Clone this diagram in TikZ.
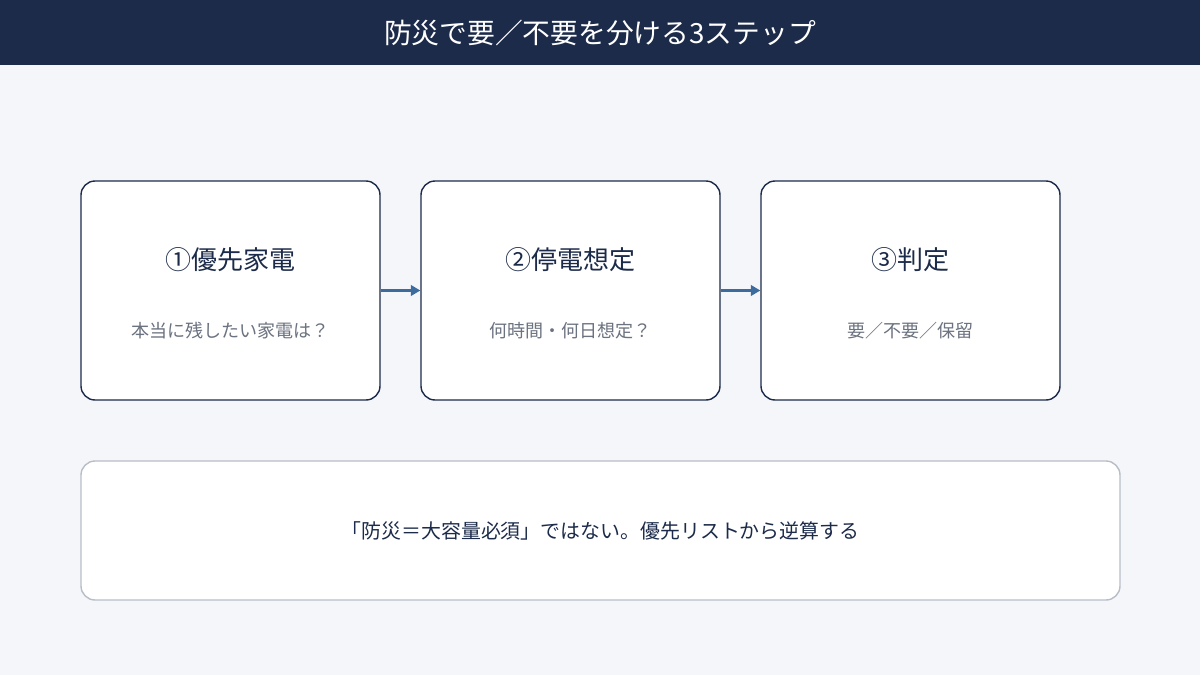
\documentclass[tikz,border=0pt]{standalone}
\usepackage{fontspec}
\setmainfont{Noto Sans CJK JP}
\usetikzlibrary{positioning,arrows.meta}
\definecolor{navy}{HTML}{1C2B4A}
\definecolor{pagebg}{HTML}{F4F6FA}
\definecolor{flow}{HTML}{3D6B9E}
\definecolor{subgray}{HTML}{6B7280}
\definecolor{edgegray}{HTML}{B8BEC8}
\tikzset{
  stepbox/.style={draw=navy,line width=1.2pt,fill=white,rounded corners=12pt,minimum width=299*0.03cm,minimum height=219*0.03cm},
  steptitle/.style={font=\fontsize{22.2}{26}\selectfont,text=navy},
  stepnote/.style={font=\fontsize{15.4}{18}\selectfont,text=subgray},
  link/.style={draw=flow,line width=1.8pt,-{Triangle[length=8pt,width=9pt]}}
}
\begin{document}
\begin{tikzpicture}[x=0.03cm,y=-0.03cm]
  \fill[pagebg] (0,0) rectangle (1200,675);
  \useasboundingbox (0,0) rectangle (1200,675);
  \fill[navy] (0,0) rectangle (1200,65);
  \node[text=white,font=\fontsize{23.7}{28}\selectfont] (header) at (600,33) {防災で要／不要を分ける3ステップ};

  % three steps
  \node[stepbox] (s1) at (230.5,290.5) {};
  \node[stepbox] (s2) at (570.5,290.5) {};
  \node[stepbox] (s3) at (910.5,290.5) {};
  \node[steptitle] (t1) at (230.5,260) {①優先家電};
  \node[stepnote] (n1) at (230.5,331) {本当に残したい家電は？};
  \node[steptitle] (t2) at (570.5,260) {②停電想定};
  \node[stepnote] (n2) at (570.5,331) {何時間・何日想定？};
  \node[steptitle] (t3) at (910.5,260) {③判定};
  \node[stepnote] (n3) at (910.5,331) {要／不要／保留};

  \draw[link] (s1.east) -- (s2.west);
  \draw[link] (s2.east) -- (s3.west);

  % summary
  \node[draw=edgegray,line width=1.2pt,fill=white,rounded corners=12pt,minimum width=1039*0.03cm,minimum height=139*0.03cm,
        font=\fontsize{17}{20}\selectfont,text=navy] (note) at (600.5,530.5) {「防災＝大容量必須」ではない。優先リストから逆算する};
\end{tikzpicture}
\end{document}
